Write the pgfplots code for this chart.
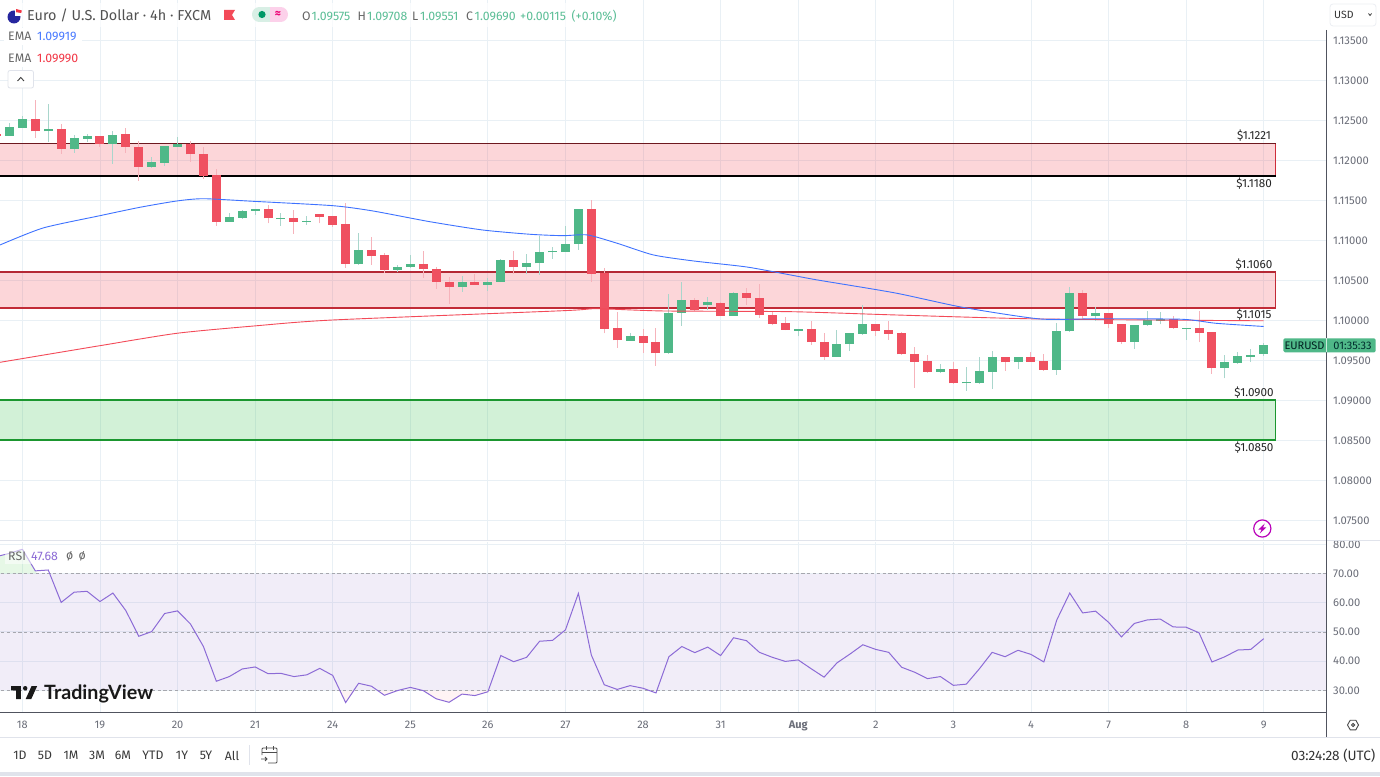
\documentclass[border=0pt]{standalone}
\usepackage{fontspec}
\usepackage{pgfplots}
\usepackage{pgfplotstable}
\pgfplotsset{compat=1.18}
\setmainfont{Fira Sans}
\newfontfamily\tvfont{Lato}
\newcommand\fs[1]{\fontsize{#1}{#1}\selectfont}
\definecolor{cup}{HTML}{4FB888}
\definecolor{cdn}{HTML}{EF5060}
\definecolor{wup}{HTML}{A9D6CC}
\definecolor{wdn}{HTML}{F6B3BB}
\definecolor{gridc}{HTML}{E9F0F5}
\definecolor{tvgray}{HTML}{6A6D78}
\definecolor{sepc}{HTML}{E0E3EB}
\definecolor{axc}{HTML}{50535E}
\definecolor{rsic}{HTML}{8C6BD6}
\definecolor{rsiband}{HTML}{7E57C2}
\definecolor{emab}{HTML}{2962FF}
\definecolor{emar}{HTML}{F23645}
\definecolor{zred}{HTML}{F23645}
\definecolor{zgreen}{HTML}{22BB3B}
\definecolor{ohlc}{HTML}{5BBE96}

% i low high bodylow bodyhigh
\pgfplotstableread{
i low high blow bhigh
-1 1.12304 1.12459 1.12304 1.12409
0 1.12400 1.12550 1.12400 1.12509
2 1.12225 1.12700 1.12359 1.12391
4 1.12091 1.12313 1.12138 1.12271
5 1.12229 1.12321 1.12266 1.12296
7 1.11954 1.12363 1.12204 1.12316
10 1.11904 1.12041 1.11913 1.11971
11 1.11929 1.12179 1.11966 1.12175
12 1.12163 1.12288 1.12166 1.12200
16 1.11225 1.11341 1.11229 1.11288
17 1.11263 1.11375 1.11279 1.11366
18 1.11316 1.11391 1.11366 1.11388
20 1.11179 1.11341 1.11262 1.11275
22 1.11188 1.11300 1.11229 1.11241
26 1.10691 1.11088 1.10696 1.10875
29 1.10596 1.10691 1.10625 1.10666
30 1.10654 1.10813 1.10663 1.10696
34 1.10354 1.10550 1.10413 1.10475
36 1.10366 1.10525 1.10441 1.10475
37 1.10471 1.10766 1.10475 1.10750
39 1.10575 1.10825 1.10666 1.10713
40 1.10566 1.11050 1.10709 1.10854
41 1.10766 1.10916 1.10845 1.10859
42 1.10850 1.11175 1.10854 1.10954
43 1.10879 1.11388 1.10950 1.11388
47 1.09738 1.09834 1.09741 1.09800
50 1.09575 1.10325 1.09584 1.10091
51 1.09929 1.10471 1.10088 1.10254
53 1.10125 1.10284 1.10184 1.10221
55 1.10050 1.10350 1.10054 1.10338
60 1.09794 1.09888 1.09866 1.09888
63 1.09538 1.09875 1.09541 1.09700
64 1.09612 1.09832 1.09697 1.09832
65 1.09815 1.10182 1.09825 1.09950
71 1.09343 1.09444 1.09350 1.09385
73 1.09113 1.09410 1.09208 1.09220
74 1.09203 1.09538 1.09213 1.09359
75 1.09135 1.09613 1.09350 1.09538
77 1.09385 1.09538 1.09469 1.09538
80 1.09316 1.09968 1.09375 1.09866
81 1.09854 1.10415 1.09858 1.10335
83 1.09992 1.10163 1.10056 1.10090
86 1.09643 1.09943 1.09722 1.09943
87 1.09925 1.10107 1.09934 1.10000
88 1.09946 1.10094 1.09985 1.10010
90 1.09750 1.09904 1.09894 1.09904
93 1.09270 1.09563 1.09401 1.09469
94 1.09456 1.09604 1.09463 1.09550
95 1.09477 1.09643 1.09538 1.09563
96 1.09551 1.09708 1.09575 1.09690
}\upcandles
\pgfplotstableread{
i low high blow bhigh
-2 1.12306 1.12325 1.12306 1.12325
1 1.12275 1.12750 1.12359 1.12509
3 1.12075 1.12454 1.12138 1.12391
6 1.12166 1.12300 1.12204 1.12296
8 1.12088 1.12396 1.12163 1.12321
9 1.11741 1.12238 1.11913 1.12163
13 1.11979 1.12234 1.12071 1.12204
14 1.11763 1.12163 1.11804 1.12075
15 1.11179 1.11884 1.11229 1.11816
19 1.11209 1.11438 1.11271 1.11384
21 1.11079 1.11375 1.11229 1.11275
23 1.11209 1.11325 1.11288 1.11321
24 1.11163 1.11300 1.11188 1.11296
25 1.10654 1.11466 1.10700 1.11200
27 1.10691 1.11038 1.10804 1.10875
28 1.10591 1.10834 1.10629 1.10813
31 1.10529 1.10863 1.10634 1.10696
32 1.10391 1.10666 1.10475 1.10638
33 1.10204 1.10534 1.10413 1.10475
35 1.10438 1.10571 1.10441 1.10475
38 1.10575 1.10859 1.10666 1.10750
44 1.10475 1.11500 1.10579 1.11388
45 1.09834 1.10650 1.09891 1.10591
46 1.09654 1.10100 1.09746 1.09896
48 1.09591 1.09884 1.09716 1.09800
49 1.09429 1.09900 1.09584 1.09721
52 1.10116 1.10279 1.10125 1.10254
54 1.10050 1.10229 1.10054 1.10216
56 1.10188 1.10400 1.10279 1.10338
57 1.10025 1.10450 1.10063 1.10279
58 1.09934 1.10104 1.09956 1.10063
59 1.09869 1.10034 1.09875 1.09959
61 1.09688 1.09992 1.09722 1.09888
62 1.09502 1.09832 1.09541 1.09731
66 1.09794 1.09950 1.09866 1.09950
67 1.09750 1.09992 1.09825 1.09879
68 1.09563 1.09845 1.09570 1.09832
69 1.09156 1.09667 1.09477 1.09575
70 1.09338 1.09563 1.09350 1.09488
72 1.09203 1.09469 1.09208 1.09385
76 1.09368 1.09541 1.09469 1.09541
78 1.09473 1.09600 1.09477 1.09538
79 1.09368 1.09570 1.09375 1.09488
82 1.10014 1.10381 1.10056 1.10335
84 1.09896 1.10090 1.09946 1.10090
85 1.09697 1.09955 1.09722 1.09955
89 1.09891 1.10044 1.09896 1.10013
91 1.09722 1.10113 1.09832 1.09904
92 1.09325 1.09845 1.09401 1.09845
}\downcandles

\pgfplotsset{
  candle/.style n args={2}{draw=none, mark=none, forget plot,
    error bars/.cd, y dir=plus, y explicit, error mark=none,
    error bar style={draw=#1, line width=#2, solid}},
  paneaxis/.style={
    scale only axis, xmin=-1.732, xmax=100.82, width=1326pt,
    xtick={0,6,12,18,24,30,36,42,48,54,60,66,72,78,84,90,96},
    grid=major, grid style={draw=gridc, line width=0.9pt},
    axis line style={draw=none}, tick style={draw=none}, major tick length=0pt,
    yticklabel pos=right,
    y tick label style={font=\fs{11.2}, text=tvgray, inner sep=0pt,
      /pgf/number format/fixed, /pgf/number format/fixed zerofill,
      /pgf/number format/assume math mode=true, /pgf/number format/1000 sep={}},
    scaled ticks=false,
  }
}

\begin{document}
\begin{tikzpicture}[x=1pt,y=1pt]
\useasboundingbox (0,0) rectangle (1380,776);
\fill[white] (0,0) rectangle (1380,776);

% ---------- price pane ----------
\begin{axis}[paneaxis, name=main, anchor=south west, at={(0pt,235pt)}, height=541pt,
  ymin=1.072375, ymax=1.14,
  ytick={1.075,1.08,1.085,1.09,1.095,1.1,1.105,1.11,1.115,1.12,1.125,1.13,1.135},
  xticklabels={},
  y tick label style={/pgf/number format/precision=5, xshift=7pt, yshift=-0.8pt},
]
% zones
\addplot[fill=zred, fill opacity=0.2, draw=none, forget plot] coordinates {(-3,1.118) (96.93,1.118) (96.93,1.1221) (-3,1.1221)} -- cycle;
\addplot[fill=zred, fill opacity=0.2, draw=none, forget plot] coordinates {(-3,1.1015) (96.93,1.1015) (96.93,1.106) (-3,1.106)} -- cycle;
\addplot[fill=zgreen, fill opacity=0.2, draw=none, forget plot] coordinates {(-3,1.085) (96.93,1.085) (96.93,1.09) (-3,1.09)} -- cycle;
\addplot[draw=zred!85!black, line width=0.9pt, forget plot] coordinates {(96.93,1.118) (96.93,1.1221)};
\addplot[draw=zred!45!black, line width=1.2pt, forget plot] coordinates {(-3,1.1221) (96.93,1.1221)};
\addplot[draw=black, line width=1.2pt, forget plot] coordinates {(-3,1.118) (96.93,1.118)};
\addplot[draw=zred!75!black, line width=1.2pt, forget plot] coordinates {(96.93,1.1015) (96.93,1.106) (-3,1.106)};
\addplot[draw=zred!80!black, line width=1.2pt, forget plot] coordinates {(-3,1.1015) (96.93,1.1015) (96.93,1.106)};
\addplot[draw=zgreen!80!black, line width=1.1pt, forget plot] coordinates {(-3,1.09) (96.93,1.09) (96.93,1.085) (-3,1.085)};
% wicks
\addplot[candle={wup}{1pt}] table[x=i,y=low,y error expr=\thisrow{high}-\thisrow{low}] {\upcandles};
\addplot[candle={wdn}{1pt}] table[x=i,y=low,y error expr=\thisrow{high}-\thisrow{low}] {\downcandles};
% bodies
\addplot[candle={cup}{9pt}] table[x=i,y=blow,y error expr=\thisrow{bhigh}-\thisrow{blow}] {\upcandles};
\addplot[candle={cdn}{9pt}] table[x=i,y=blow,y error expr=\thisrow{bhigh}-\thisrow{blow}] {\downcandles};
% EMA lines
\addplot[emar!90!white, line width=0.9pt, smooth, tension=0.4, forget plot] coordinates {
(-1.73,1.09471) (6,1.09679) (11.96,1.09834) (17.9,1.09925) (24,1.10000) (41.8,1.10116) (44.4,1.10141)
(49.5,1.10113) (59.4,1.10104) (67.5,1.10063) (78.7,1.10013) (96,1.09990)};
\addplot[emab!90!white, line width=0.9pt, smooth, tension=0.4, forget plot] coordinates {
(-1.73,1.10938) (1.6,1.1115) (6,1.11304) (9.1,1.11409) (11.96,1.11488) (14,1.11516) (17.8,1.11484)
(24,1.11429) (27.1,1.11363) (31.5,1.11229) (35.6,1.11125) (39.3,1.11071) (41.8,1.11054) (43.7,1.11063)
(46,1.10959) (48.8,1.10813) (51.9,1.10738) (56,1.10663) (59.4,1.10563) (61.5,1.105) (67.5,1.10338)
(72.7,1.10159) (78.7,1.10013) (83.2,1.10016) (89.7,1.10009) (92.3,1.09959) (96,1.09919)};
\end{axis}

% ---------- RSI pane ----------
\begin{axis}[paneaxis, name=rsi, anchor=south west, at={(0pt,63.5pt)}, height=170.5pt,
  ymin=22.4, ymax=80.79,
  ytick={30,40,50,60,70,80},
  ymajorgrids=true,
  xticklabels={18,19,20,21,24,25,26,27,28,31,\textbf{Aug},2,3,4,7,8,9},
  x tick label style={font=\fs{11}, text=tvgray, inner sep=0pt, yshift=-8pt},
  y tick label style={/pgf/number format/precision=2, xshift=7pt},
]
\addplot[fill=rsiband, fill opacity=0.1, draw=none, forget plot] coordinates {(-3,30) (101,30) (101,70) (-3,70)} -- cycle;
\addplot[fill=green!60!gray, fill opacity=0.12, draw=none, forget plot] coordinates {(-2,70) (-2,75.8) (-1,76.9) (0,78.3) (1,70.9) (1.12,70)} -- cycle;
\addplot[fill=red!70, fill opacity=0.06, draw=none, forget plot] coordinates {(27.6,30) (28,28.3) (29,29.9) (29.1,30)} -- cycle;
\addplot[fill=red!70, fill opacity=0.06, draw=none, forget plot] coordinates {(31,30) (31,29.9) (32,27.1) (33,25.9) (34,28.7) (35,28.2) (36,29.5) (36.05,30)} -- cycle;
\addplot[fill=red!70, fill opacity=0.06, draw=none, forget plot] coordinates {(24.5,30) (25,25.8) (25.7,30)} -- cycle;
\addplot[draw=tvgray!60, line width=0.8pt, dash pattern=on 3.2pt off 2.6pt, forget plot] coordinates {(-3,70) (101,70)};
\addplot[draw=tvgray!60, line width=0.8pt, dash pattern=on 3.2pt off 2.6pt, forget plot] coordinates {(-3,50) (101,50)};
\addplot[draw=tvgray!60, line width=0.8pt, dash pattern=on 3.2pt off 2.6pt, forget plot] coordinates {(-3,30) (101,30)};
\addplot[rsic, line width=1pt, forget plot] coordinates {
(-2,75.8) (-1,76.9) (0,78.3) (1,70.9) (2,71.2) (3,60.1) (4,63.6) (5,63.9) (6,60.4) (7,63.3) (8,57.3) (9,48.5)
(10,50.1) (11,56.3) (12,57.2) (13,52.7) (14,45.0) (15,33.1) (16,34.7) (17,37.3) (18,38.0) (19,35.7) (20,35.8)
(21,34.7) (22,35.3) (23,37.5) (24,35.1) (25,25.8) (26,32.4) (27,31.4) (28,28.3) (29,29.9) (30,31.0) (31,29.9)
(32,27.1) (33,25.9) (34,28.7) (35,28.2) (36,29.5) (37,41.9) (38,39.8) (39,41.3) (40,46.8) (41,47.1) (42,50.7)
(43,63.2) (44,42.1) (45,31.9) (46,30.3) (47,31.6) (48,30.7) (49,29.1) (50,41.5) (51,45.0) (52,42.9) (53,44.8)
(54,41.9) (55,48.0) (56,47.0) (57,43.0) (58,41.3) (59,39.9) (60,40.4) (61,37.4) (62,34.5) (63,39.4) (64,42.4)
(65,45.6) (66,44.0) (67,43.0) (68,37.9) (69,36.2) (70,34.0) (71,34.7) (72,31.7) (73,32.1) (74,37.3) (75,43.0)
(76,41.5) (77,43.7) (78,42.3) (79,39.7) (80,54.1) (81,63.3) (82,56.5) (83,57.1) (84,53.3) (85,48.3) (86,52.9)
(87,54.1) (88,54.4) (89,51.7) (90,51.6) (91,49.7) (92,39.7) (93,41.5) (94,43.8) (95,44.0) (96,47.68)};
\end{axis}

% ---------- chrome, in picture pixels (y downwards) ----------
\begin{scope}[y=-1pt, yshift=776pt,
  lab/.style={anchor=west, inner sep=0pt, font=\fs{12.3}},
  zl/.style={anchor=center, inner sep=0pt, font=\fs{11.7}, text=black!85}]
% separators and axis lines
\draw[sepc, line width=1pt] (0,541) -- (1380,541);
\draw[axc, line width=1.2pt] (1326.3,30) -- (1326.3,737.5);
\draw[axc, line width=1.2pt] (0,712.5) -- (1326.3,712.5);
\draw[sepc, line width=1pt] (0,737.5) -- (1380,737.5);
\fill[sepc] (0,772) rectangle (1380,776);
% header
\fill[white, fill opacity=0.7] (0,3) rectangle (622,27);
\fill[white] (4,28) rectangle (82,45);
\fill[white] (4,50) rectangle (82,67);
\fill[blue!55!black!85] (14,17) circle (6.5);
\fill[white] (15,10.5) rectangle (21.5,16);
\fill[zred] (16,9) -- (21.8,10.5) -- (21.3,13) -- (16,12.2) -- cycle;
\node[lab, font=\fs{14.4}, text=black!68] at (27,15.5) {Euro / U.S. Dollar · 4h · FXCM};
\fill[zred!90!white] (224,10) -- (235,10) -- (232,15) -- (235,20) -- (224,20) -- cycle;
\begin{scope}
\clip[rounded corners=7.4pt] (252,7) rectangle (288,22);
\fill[cup!22] (252,7) rectangle (270,22);
\fill[magenta!18!white] (270,7) rectangle (288,22);
\end{scope}
\fill[teal!80!green] (262,14.5) circle (3.6);
\node[anchor=center, inner sep=0pt, font=\fs{12}\bfseries, text=magenta!80!red] at (278,14) {≈};
\node[lab, text=black!60] at (302,16) {O};
\node[lab, text=ohlc] at (311.5,16) {1.09575};
\node[lab, text=black!60] at (357.5,16) {H};
\node[lab, text=ohlc] at (367,16) {1.09708};
\node[lab, text=black!60] at (412,16) {L};
\node[lab, text=ohlc] at (420,16) {1.09551};
\node[lab, text=black!60] at (466,16) {C};
\node[lab, text=ohlc] at (474.5,16) {1.09690};
\node[lab, text=ohlc] at (520,16) {+0.00115};
\node[lab, text=ohlc] at (571.5,16) {(+0.10\%)};
\node[lab, text=black!60] at (8,36) {EMA};
\node[lab, text=emab!85!white] at (37,36) {1.09919};
\node[lab, text=black!60] at (8,58) {EMA};
\node[lab, text=emar] at (37,58) {1.09990};
\draw[sepc, fill=white, line width=0.8pt, rounded corners=2pt] (8,70.5) rectangle (33.5,88);
\draw[black!75, line width=0.9pt] (17.5,81) -- (20.8,77.5) -- (24,81);
% USD button
\draw[sepc!60, fill=white, line width=0.8pt, rounded corners=3pt] (1330,4) rectangle (1376,26);
\node[lab, font=\fs{10.5}, text=black!80] at (1334,14.5) {USD};
\draw[black!75, line width=0.8pt] (1368.5,13.5) -- (1370,15.5) -- (1371.5,13.5);
% zone labels
\node[zl] at (1254,136) {\$1.1221};
\node[zl] at (1254,184) {\$1.1180};
\node[zl] at (1254,265) {\$1.1060};
\node[zl] at (1254,315) {\$1.1015};
\node[zl] at (1254,393) {\$1.0900};
\node[zl] at (1254,448) {\$1.0850};
% price tag
\fill[cup, rounded corners=1.5pt] (1283.3,338.3) rectangle (1375.7,352.3);
\draw[white!70!cup, line width=0.8pt] (1326,338.3) -- (1326,352.3);
\node[anchor=center, inner sep=0pt, font=\fs{11}, text=black!75!teal] at (1304.5,345.5) {EURUSD};
\node[anchor=center, inner sep=0pt, font=\fs{11}, text=black!65!teal] at (1352.5,345.5) {01:35:33};
% lightning badge
\draw[violet!55!magenta, line width=1.2pt, fill=white] (1262.3,528.5) circle (8.6);
\fill[violet!55!magenta] (1264.8,523.5) -- (1258.3,529.6) -- (1261.6,529.6) -- (1259.8,533.5) -- (1266.3,527.4) -- (1263,527.4) -- cycle;
% RSI legend
\fill[white, fill opacity=0.55] (5,548) rectangle (88,564);
\node[lab, text=black!60] at (8,556) {RSI};
\node[lab, text=rsic] at (31,556) {47.68};
\node[lab, text=black!60] at (66,556) {ø};
\node[lab, text=black!60] at (78.5,556) {ø};
% TradingView logo
\fill[black!90] (11,686) -- (20.8,686) -- (20.8,699.2) -- (16,699.2) -- (16,690.4) -- (11,690.4) -- cycle;
\fill[black!90] (25.2,688.2) circle (2.2);
\fill[black!90] (31.6,686) -- (37.2,686) -- (31.2,699.2) -- (25.6,699.2) -- cycle;
\node[anchor=west, inner sep=0pt, font=\tvfont\bfseries\fs{19.7}, text=black!90] at (44,693.5) {TradingView};
% bottom bar
\foreach \xx/\tt in {20/1D,45/5D,71/1M,97/3M,123/6M,153/YTD,182/1Y,206/5Y,232/All}
  \node[anchor=center, inner sep=0pt, font=\fs{12.3}, text=black!78] at (\xx,755.5) {\tt};
\draw[sepc, line width=1pt] (249,745) -- (249,765);
\draw[black!70, line width=0.9pt, rounded corners=1pt] (262,755) -- (262,748) -- (277,748) -- (277,763) -- (268,763);
\draw[black!70, line width=0.9pt] (262,752) -- (277,752) (266,746) -- (266,749.5) (273,746) -- (273,749.5);
\draw[black!70, line width=0.9pt] (261,759) -- (267,759) (265,757) -- (267,759) -- (265,761);
\node[anchor=east, inner sep=0pt, font=\fs{13.6}, text=black!80] at (1375.5,755.5) {03:24:28 (UTC)};
% gear
\draw[black!72, line width=0.9pt] (1347.5,725) -- (1350.2,720.2) -- (1355.8,720.2) -- (1358.5,725) -- (1355.8,729.8) -- (1350.2,729.8) -- cycle;
\draw[black!72, line width=0.9pt] (1353,725) circle (1.6);
\end{scope}
\end{tikzpicture}
\end{document}
